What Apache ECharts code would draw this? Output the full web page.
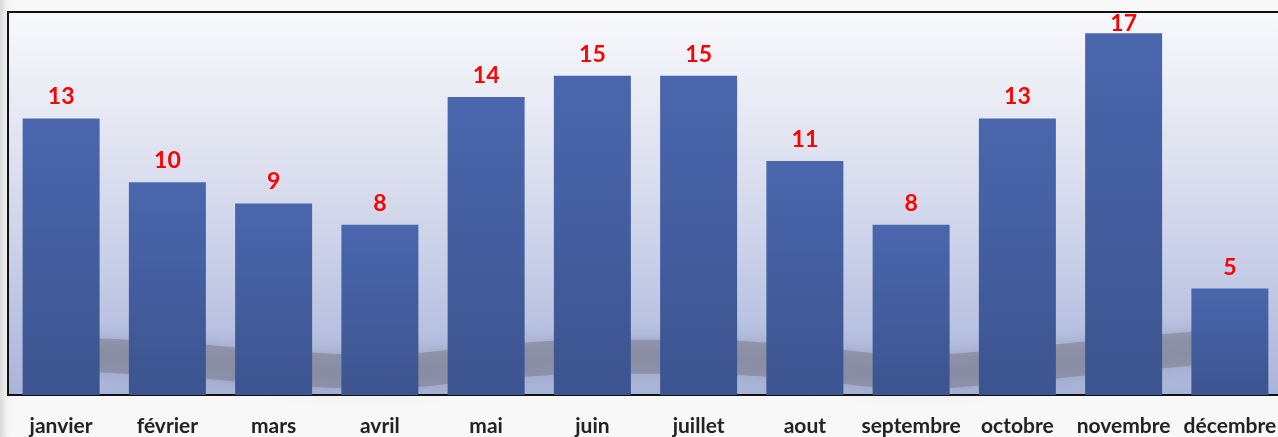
<!DOCTYPE html>
<html>
<head>
<meta charset="utf-8">
<script src="https://cdn.jsdelivr.net/npm/echarts@6/dist/echarts.min.js"></script>
<style>
  html, body { margin: 0; padding: 0; }
  body {
    width: 1278px; height: 437px; overflow: hidden;
    background: linear-gradient(to right, #d9d9d9 0px, #f2f2f2 7px, #f8f8f8 12px, #f8f8f8 100%);
  }
  #chart { width: 1278px; height: 437px; }
</style>
</head>
<body>
<div id="chart"></div>
<script>
// mois
const months = ['janvier', 'février', 'mars', 'avril', 'mai', 'juin', 'juillet', 'aout', 'septembre', 'octobre', 'novembre', 'décembre'];
// valeurs
const counts = [13, 10, 9, 8, 14, 15, 15, 11, 8, 13, 17, 5];
// ombre décorative en bas du fond
const waveShadow = [1.9, 1.7, 1.3, 1.1, 1.5, 1.8, 1.8, 1.5, 1.1, 1.4, 1.9, 2.3];

const yMax = 18;

const chart = echarts.init(document.getElementById('chart'));

// étiquette collée à la barre quand il n'y a plus de place sous le cadre
const barData = counts.map(v => ({
  value: v,
  label: { distance: v >= yMax - 1 ? -2 : 10 }
}));

const option = {
  animation: false,
  grid: {
    left: 8,
    top: 12,
    width: 1275,
    height: 383,
    show: true,
    borderColor: '#111',
    borderWidth: 2,
    outerBoundsMode: 'none',
    backgroundColor: new echarts.graphic.LinearGradient(0, 0, 0, 1, [
      { offset: 0, color: '#f8f9fc' },
      { offset: 0.3, color: '#e4e7f2' },
      { offset: 0.6, color: '#ccd2e9' },
      { offset: 1, color: '#a9b4da' }
    ])
  },
  xAxis: {
    type: 'category',
    data: months,
    axisLine: { lineStyle: { color: '#111', width: 2 } },
    axisTick: { show: false },
    axisLabel: {
      interval: 0,
      margin: 21,
      color: '#222',
      fontFamily: 'Lato',
      fontWeight: 'bold',
      fontSize: 21
    }
  },
  yAxis: {
    type: 'value',
    min: 0,
    max: yMax,
    show: false,
    splitLine: { show: false }
  },
  series: [
    {
      type: 'line',
      data: waveShadow,
      smooth: true,
      symbol: 'none',
      z: 1,
      silent: true,
      lineStyle: {
        width: 34,
        color: 'rgba(118,120,135,0.5)',
        shadowBlur: 16,
        shadowColor: 'rgba(110,112,125,0.6)'
      }
    },
    {
      type: 'bar',
      data: barData,
      barWidth: 77,
      z: 2,
      itemStyle: {
        color: new echarts.graphic.LinearGradient(0, 0, 0, 1, [
          { offset: 0, color: '#4a67ae' },
          { offset: 1, color: '#3c548f' }
        ])
      },
      label: {
        show: true,
        position: 'top',
        distance: 10,
        color: '#ff0000',
        fontFamily: 'Lato',
        fontWeight: 'bold',
        fontSize: 23
      }
    }
  ]
};

chart.setOption(option);
</script>
</body>
</html>
